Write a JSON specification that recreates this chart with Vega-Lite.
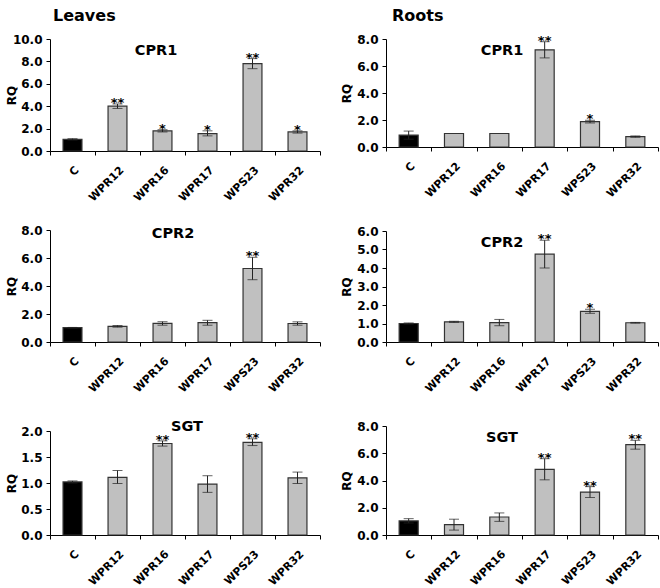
{
  "$schema": "https://vega.github.io/schema/vega-lite/v6.json",
  "background": "white",
  "padding": {"left": 5, "top": 8, "right": 0, "bottom": 0},
  "config": {
    "font": "DejaVu Sans",
    "view": {"stroke": null},
    "axis": {"labelFont": "DejaVu Sans", "labelFontWeight": "bold", "labelColor": "black", "domainColor": "black", "tickColor": "black", "grid": false, "titleFont": "DejaVu Sans", "titleFontWeight": "bold", "titleFontSize": 12, "titleColor": "black", "tickSize": 4},
    "axisX": {"labelAngle": -45, "tickBand": "extent", "labelPadding": 9, "labelFontSize": 11},
    "axisY": {"labelFontSize": 12, "labelPadding": 4},
    "title": {"font": "DejaVu Sans", "fontWeight": "bold", "color": "black"}
  },
  "data": {"values": [
    {"tissue": "Leaves", "gene": "CPR1", "sample": "C", "rq": 1.05, "lo": 0.98, "hi": 1.1, "sig": ""},
    {"tissue": "Leaves", "gene": "CPR1", "sample": "WPR12", "rq": 4.0, "lo": 3.8, "hi": 4.2, "sig": "**"},
    {"tissue": "Leaves", "gene": "CPR1", "sample": "WPR16", "rq": 1.8, "lo": 1.7, "hi": 1.9, "sig": "*"},
    {"tissue": "Leaves", "gene": "CPR1", "sample": "WPR17", "rq": 1.55, "lo": 1.35, "hi": 1.8, "sig": "*"},
    {"tissue": "Leaves", "gene": "CPR1", "sample": "WPS23", "rq": 7.8, "lo": 7.35, "hi": 8.25, "sig": "**"},
    {"tissue": "Leaves", "gene": "CPR1", "sample": "WPR32", "rq": 1.7, "lo": 1.6, "hi": 1.8, "sig": "*"},
    {"tissue": "Roots", "gene": "CPR1", "sample": "C", "rq": 0.88, "lo": 0.58, "hi": 1.18, "sig": ""},
    {"tissue": "Roots", "gene": "CPR1", "sample": "WPR12", "rq": 1.0, "lo": null, "hi": null, "sig": ""},
    {"tissue": "Roots", "gene": "CPR1", "sample": "WPR16", "rq": 1.0, "lo": null, "hi": null, "sig": ""},
    {"tissue": "Roots", "gene": "CPR1", "sample": "WPR17", "rq": 7.2, "lo": 6.6, "hi": 7.8, "sig": "**"},
    {"tissue": "Roots", "gene": "CPR1", "sample": "WPS23", "rq": 1.88, "lo": 1.78, "hi": 1.98, "sig": "*"},
    {"tissue": "Roots", "gene": "CPR1", "sample": "WPR32", "rq": 0.77, "lo": 0.72, "hi": 0.82, "sig": ""},
    {"tissue": "Leaves", "gene": "CPR2", "sample": "C", "rq": 1.02, "lo": 1.0, "hi": 1.04, "sig": ""},
    {"tissue": "Leaves", "gene": "CPR2", "sample": "WPR12", "rq": 1.12, "lo": 1.06, "hi": 1.18, "sig": ""},
    {"tissue": "Leaves", "gene": "CPR2", "sample": "WPR16", "rq": 1.33, "lo": 1.2, "hi": 1.45, "sig": ""},
    {"tissue": "Leaves", "gene": "CPR2", "sample": "WPR17", "rq": 1.38, "lo": 1.2, "hi": 1.55, "sig": ""},
    {"tissue": "Leaves", "gene": "CPR2", "sample": "WPS23", "rq": 5.25, "lo": 4.45, "hi": 6.05, "sig": "**"},
    {"tissue": "Leaves", "gene": "CPR2", "sample": "WPR32", "rq": 1.32, "lo": 1.2, "hi": 1.44, "sig": ""},
    {"tissue": "Roots", "gene": "CPR2", "sample": "C", "rq": 1.0, "lo": 0.97, "hi": 1.03, "sig": ""},
    {"tissue": "Roots", "gene": "CPR2", "sample": "WPR12", "rq": 1.09, "lo": 1.06, "hi": 1.12, "sig": ""},
    {"tissue": "Roots", "gene": "CPR2", "sample": "WPR16", "rq": 1.05, "lo": 0.88, "hi": 1.22, "sig": ""},
    {"tissue": "Roots", "gene": "CPR2", "sample": "WPR17", "rq": 4.75, "lo": 4.0, "hi": 5.5, "sig": "**"},
    {"tissue": "Roots", "gene": "CPR2", "sample": "WPS23", "rq": 1.66, "lo": 1.55, "hi": 1.77, "sig": "*"},
    {"tissue": "Roots", "gene": "CPR2", "sample": "WPR32", "rq": 1.04, "lo": 1.02, "hi": 1.06, "sig": ""},
    {"tissue": "Leaves", "gene": "SGT", "sample": "C", "rq": 1.02, "lo": 1.0, "hi": 1.04, "sig": ""},
    {"tissue": "Leaves", "gene": "SGT", "sample": "WPR12", "rq": 1.11, "lo": 0.99, "hi": 1.24, "sig": ""},
    {"tissue": "Leaves", "gene": "SGT", "sample": "WPR16", "rq": 1.76, "lo": 1.71, "hi": 1.81, "sig": "**"},
    {"tissue": "Leaves", "gene": "SGT", "sample": "WPR17", "rq": 0.98, "lo": 0.82, "hi": 1.14, "sig": ""},
    {"tissue": "Leaves", "gene": "SGT", "sample": "WPS23", "rq": 1.78, "lo": 1.72, "hi": 1.85, "sig": "**"},
    {"tissue": "Leaves", "gene": "SGT", "sample": "WPR32", "rq": 1.1, "lo": 0.99, "hi": 1.21, "sig": ""},
    {"tissue": "Roots", "gene": "SGT", "sample": "C", "rq": 1.03, "lo": 0.88, "hi": 1.2, "sig": ""},
    {"tissue": "Roots", "gene": "SGT", "sample": "WPR12", "rq": 0.76, "lo": 0.36, "hi": 1.16, "sig": ""},
    {"tissue": "Roots", "gene": "SGT", "sample": "WPR16", "rq": 1.32, "lo": 1.0, "hi": 1.62, "sig": ""},
    {"tissue": "Roots", "gene": "SGT", "sample": "WPR17", "rq": 4.82, "lo": 4.05, "hi": 5.6, "sig": "**"},
    {"tissue": "Roots", "gene": "SGT", "sample": "WPS23", "rq": 3.15, "lo": 2.75, "hi": 3.55, "sig": "**"},
    {"tissue": "Roots", "gene": "SGT", "sample": "WPR32", "rq": 6.63, "lo": 6.3, "hi": 6.95, "sig": "**"}
  ]},
  "spacing": 19,
  "hconcat": [
    {
      "title": {"text": "Leaves", "fontSize": 16, "anchor": "start", "dx": 48, "offset": 9},
      "spacing": 21,
      "vconcat": [
        {
          "width": 270, "height": 112,
          "title": {"text": "CPR1", "fontSize": 14.5, "anchor": "middle", "frame": "group", "dx": -29, "offset": -25},
          "transform": [{"filter": "datum.tissue === 'Leaves' && datum.gene === 'CPR1'"}],
          "encoding": {"x": {"field": "sample", "type": "nominal", "sort": ["C", "WPR12", "WPR16", "WPR17", "WPS23", "WPR32"], "scale": {"paddingInner": 0, "paddingOuter": 0}, "axis": {"title": null}}},
          "layer": [
            {"mark": {"type": "bar", "width": {"band": 0.42}, "stroke": "#333333", "strokeWidth": 1.2}, "encoding": {"y": {"field": "rq", "type": "quantitative", "scale": {"domain": [0, 10]}, "axis": {"title": "RQ", "values": [0, 2, 4, 6, 8, 10], "format": ".1f", "titleX": -32}}, "fill": {"condition": {"test": "datum.sample === 'C'", "value": "black"}, "value": "#c0c0c0"}}},
            {"mark": {"type": "rule", "color": "#222222", "strokeWidth": 1}, "encoding": {"y": {"field": "lo", "type": "quantitative", "axis": {"title": "RQ", "values": [0, 2, 4, 6, 8, 10], "format": ".1f", "titleX": -32}}, "y2": {"field": "hi"}}},
            {"mark": {"type": "tick", "color": "#222222", "size": 10, "thickness": 1}, "encoding": {"y": {"field": "lo", "type": "quantitative", "axis": {"title": "RQ", "values": [0, 2, 4, 6, 8, 10], "format": ".1f", "titleX": -32}}}},
            {"mark": {"type": "tick", "color": "#222222", "size": 10, "thickness": 1}, "encoding": {"y": {"field": "hi", "type": "quantitative", "axis": {"title": "RQ", "values": [0, 2, 4, 6, 8, 10], "format": ".1f", "titleX": -32}}}},
            {"mark": {"type": "text", "fontSize": 13, "fontWeight": "bold", "baseline": "alphabetic", "dy": 3, "color": "black"}, "encoding": {"y": {"field": "hi", "type": "quantitative", "axis": {"title": "RQ", "values": [0, 2, 4, 6, 8, 10], "format": ".1f", "titleX": -32}}, "text": {"field": "sig"}}}
          ]
        },
        {
          "width": 270, "height": 112,
          "title": {"text": "CPR2", "fontSize": 14.5, "anchor": "middle", "frame": "group", "dx": -12, "offset": -17},
          "transform": [{"filter": "datum.tissue === 'Leaves' && datum.gene === 'CPR2'"}],
          "encoding": {"x": {"field": "sample", "type": "nominal", "sort": ["C", "WPR12", "WPR16", "WPR17", "WPS23", "WPR32"], "scale": {"paddingInner": 0, "paddingOuter": 0}, "axis": {"title": null, "minExtent": 55}}},
          "layer": [
            {"mark": {"type": "bar", "width": {"band": 0.42}, "stroke": "#333333", "strokeWidth": 1.2}, "encoding": {"y": {"field": "rq", "type": "quantitative", "scale": {"domain": [0, 8]}, "axis": {"title": "RQ", "values": [0, 2, 4, 6, 8], "format": ".1f", "titleX": -32}}, "fill": {"condition": {"test": "datum.sample === 'C'", "value": "black"}, "value": "#c0c0c0"}}},
            {"mark": {"type": "rule", "color": "#222222", "strokeWidth": 1}, "encoding": {"y": {"field": "lo", "type": "quantitative", "axis": {"title": "RQ", "values": [0, 2, 4, 6, 8], "format": ".1f", "titleX": -32}}, "y2": {"field": "hi"}}},
            {"mark": {"type": "tick", "color": "#222222", "size": 10, "thickness": 1}, "encoding": {"y": {"field": "lo", "type": "quantitative", "axis": {"title": "RQ", "values": [0, 2, 4, 6, 8], "format": ".1f", "titleX": -32}}}},
            {"mark": {"type": "tick", "color": "#222222", "size": 10, "thickness": 1}, "encoding": {"y": {"field": "hi", "type": "quantitative", "axis": {"title": "RQ", "values": [0, 2, 4, 6, 8], "format": ".1f", "titleX": -32}}}},
            {"mark": {"type": "text", "fontSize": 13, "fontWeight": "bold", "baseline": "alphabetic", "dy": 3, "color": "black"}, "encoding": {"y": {"field": "hi", "type": "quantitative", "axis": {"title": "RQ", "values": [0, 2, 4, 6, 8], "format": ".1f", "titleX": -32}}, "text": {"field": "sig"}}}
          ]
        },
        {
          "width": 270, "height": 104,
          "title": {"text": "SGT", "fontSize": 14.5, "anchor": "middle", "frame": "group", "dx": 2, "offset": -9},
          "transform": [{"filter": "datum.tissue === 'Leaves' && datum.gene === 'SGT'"}],
          "encoding": {"x": {"field": "sample", "type": "nominal", "sort": ["C", "WPR12", "WPR16", "WPR17", "WPS23", "WPR32"], "scale": {"paddingInner": 0, "paddingOuter": 0}, "axis": {"title": null}}},
          "layer": [
            {"mark": {"type": "bar", "width": {"band": 0.42}, "stroke": "#333333", "strokeWidth": 1.2}, "encoding": {"y": {"field": "rq", "type": "quantitative", "scale": {"domain": [0, 2]}, "axis": {"title": "RQ", "values": [0, 0.5, 1, 1.5, 2], "format": ".1f", "titleX": -32}}, "fill": {"condition": {"test": "datum.sample === 'C'", "value": "black"}, "value": "#c0c0c0"}}},
            {"mark": {"type": "rule", "color": "#222222", "strokeWidth": 1}, "encoding": {"y": {"field": "lo", "type": "quantitative", "axis": {"title": "RQ", "values": [0, 0.5, 1, 1.5, 2], "format": ".1f", "titleX": -32}}, "y2": {"field": "hi"}}},
            {"mark": {"type": "tick", "color": "#222222", "size": 10, "thickness": 1}, "encoding": {"y": {"field": "lo", "type": "quantitative", "axis": {"title": "RQ", "values": [0, 0.5, 1, 1.5, 2], "format": ".1f", "titleX": -32}}}},
            {"mark": {"type": "tick", "color": "#222222", "size": 10, "thickness": 1}, "encoding": {"y": {"field": "hi", "type": "quantitative", "axis": {"title": "RQ", "values": [0, 0.5, 1, 1.5, 2], "format": ".1f", "titleX": -32}}}},
            {"mark": {"type": "text", "fontSize": 13, "fontWeight": "bold", "baseline": "alphabetic", "dy": 3, "color": "black"}, "encoding": {"y": {"field": "hi", "type": "quantitative", "axis": {"title": "RQ", "values": [0, 0.5, 1, 1.5, 2], "format": ".1f", "titleX": -32}}, "text": {"field": "sig"}}}
          ]
        }
      ]
    },
    {
      "title": {"text": "Roots", "fontSize": 16, "anchor": "start", "dx": 52, "offset": 9},
      "spacing": 26,
      "vconcat": [
        {
          "width": 272, "height": 108,
          "title": {"text": "CPR1", "fontSize": 14.5, "anchor": "middle", "frame": "group", "dx": -20, "offset": -25},
          "transform": [{"filter": "datum.tissue === 'Roots' && datum.gene === 'CPR1'"}],
          "encoding": {"x": {"field": "sample", "type": "nominal", "sort": ["C", "WPR12", "WPR16", "WPR17", "WPS23", "WPR32"], "scale": {"paddingInner": 0, "paddingOuter": 0}, "axis": {"title": null}}},
          "layer": [
            {"mark": {"type": "bar", "width": {"band": 0.42}, "stroke": "#333333", "strokeWidth": 1.2}, "encoding": {"y": {"field": "rq", "type": "quantitative", "scale": {"domain": [0, 8]}, "axis": {"title": "RQ", "values": [0, 2, 4, 6, 8], "format": ".1f", "titleX": -33}}, "fill": {"condition": {"test": "datum.sample === 'C'", "value": "black"}, "value": "#c0c0c0"}}},
            {"mark": {"type": "rule", "color": "#222222", "strokeWidth": 1}, "encoding": {"y": {"field": "lo", "type": "quantitative", "axis": {"title": "RQ", "values": [0, 2, 4, 6, 8], "format": ".1f", "titleX": -33}}, "y2": {"field": "hi"}}},
            {"mark": {"type": "tick", "color": "#222222", "size": 10, "thickness": 1}, "encoding": {"y": {"field": "lo", "type": "quantitative", "axis": {"title": "RQ", "values": [0, 2, 4, 6, 8], "format": ".1f", "titleX": -33}}}},
            {"mark": {"type": "tick", "color": "#222222", "size": 10, "thickness": 1}, "encoding": {"y": {"field": "hi", "type": "quantitative", "axis": {"title": "RQ", "values": [0, 2, 4, 6, 8], "format": ".1f", "titleX": -33}}}},
            {"mark": {"type": "text", "fontSize": 13, "fontWeight": "bold", "baseline": "alphabetic", "dy": 3, "color": "black"}, "encoding": {"y": {"field": "hi", "type": "quantitative", "axis": {"title": "RQ", "values": [0, 2, 4, 6, 8], "format": ".1f", "titleX": -33}}, "text": {"field": "sig"}}}
          ]
        },
        {
          "width": 272, "height": 111,
          "title": {"text": "CPR2", "fontSize": 14.5, "anchor": "middle", "frame": "group", "dx": -20, "offset": -25},
          "transform": [{"filter": "datum.tissue === 'Roots' && datum.gene === 'CPR2'"}],
          "encoding": {"x": {"field": "sample", "type": "nominal", "sort": ["C", "WPR12", "WPR16", "WPR17", "WPS23", "WPR32"], "scale": {"paddingInner": 0, "paddingOuter": 0}, "axis": {"title": null}}},
          "layer": [
            {"mark": {"type": "bar", "width": {"band": 0.42}, "stroke": "#333333", "strokeWidth": 1.2}, "encoding": {"y": {"field": "rq", "type": "quantitative", "scale": {"domain": [0, 6]}, "axis": {"title": "RQ", "values": [0, 1, 2, 3, 4, 5, 6], "format": ".1f", "titleX": -33}}, "fill": {"condition": {"test": "datum.sample === 'C'", "value": "black"}, "value": "#c0c0c0"}}},
            {"mark": {"type": "rule", "color": "#222222", "strokeWidth": 1}, "encoding": {"y": {"field": "lo", "type": "quantitative", "axis": {"title": "RQ", "values": [0, 1, 2, 3, 4, 5, 6], "format": ".1f", "titleX": -33}}, "y2": {"field": "hi"}}},
            {"mark": {"type": "tick", "color": "#222222", "size": 10, "thickness": 1}, "encoding": {"y": {"field": "lo", "type": "quantitative", "axis": {"title": "RQ", "values": [0, 1, 2, 3, 4, 5, 6], "format": ".1f", "titleX": -33}}}},
            {"mark": {"type": "tick", "color": "#222222", "size": 10, "thickness": 1}, "encoding": {"y": {"field": "hi", "type": "quantitative", "axis": {"title": "RQ", "values": [0, 1, 2, 3, 4, 5, 6], "format": ".1f", "titleX": -33}}}},
            {"mark": {"type": "text", "fontSize": 13, "fontWeight": "bold", "baseline": "alphabetic", "dy": 3, "color": "black"}, "encoding": {"y": {"field": "hi", "type": "quantitative", "axis": {"title": "RQ", "values": [0, 1, 2, 3, 4, 5, 6], "format": ".1f", "titleX": -33}}, "text": {"field": "sig"}}}
          ]
        },
        {
          "width": 272, "height": 109,
          "title": {"text": "SGT", "fontSize": 14.5, "anchor": "middle", "frame": "group", "dx": -20, "offset": -25},
          "transform": [{"filter": "datum.tissue === 'Roots' && datum.gene === 'SGT'"}],
          "encoding": {"x": {"field": "sample", "type": "nominal", "sort": ["C", "WPR12", "WPR16", "WPR17", "WPS23", "WPR32"], "scale": {"paddingInner": 0, "paddingOuter": 0}, "axis": {"title": null}}},
          "layer": [
            {"mark": {"type": "bar", "width": {"band": 0.42}, "stroke": "#333333", "strokeWidth": 1.2}, "encoding": {"y": {"field": "rq", "type": "quantitative", "scale": {"domain": [0, 8]}, "axis": {"title": "RQ", "values": [0, 2, 4, 6, 8], "format": ".1f", "titleX": -33}}, "fill": {"condition": {"test": "datum.sample === 'C'", "value": "black"}, "value": "#c0c0c0"}}},
            {"mark": {"type": "rule", "color": "#222222", "strokeWidth": 1}, "encoding": {"y": {"field": "lo", "type": "quantitative", "axis": {"title": "RQ", "values": [0, 2, 4, 6, 8], "format": ".1f", "titleX": -33}}, "y2": {"field": "hi"}}},
            {"mark": {"type": "tick", "color": "#222222", "size": 10, "thickness": 1}, "encoding": {"y": {"field": "lo", "type": "quantitative", "axis": {"title": "RQ", "values": [0, 2, 4, 6, 8], "format": ".1f", "titleX": -33}}}},
            {"mark": {"type": "tick", "color": "#222222", "size": 10, "thickness": 1}, "encoding": {"y": {"field": "hi", "type": "quantitative", "axis": {"title": "RQ", "values": [0, 2, 4, 6, 8], "format": ".1f", "titleX": -33}}}},
            {"mark": {"type": "text", "fontSize": 13, "fontWeight": "bold", "baseline": "alphabetic", "dy": 3, "color": "black"}, "encoding": {"y": {"field": "hi", "type": "quantitative", "axis": {"title": "RQ", "values": [0, 2, 4, 6, 8], "format": ".1f", "titleX": -33}}, "text": {"field": "sig"}}}
          ]
        }
      ]
    }
  ]
}
